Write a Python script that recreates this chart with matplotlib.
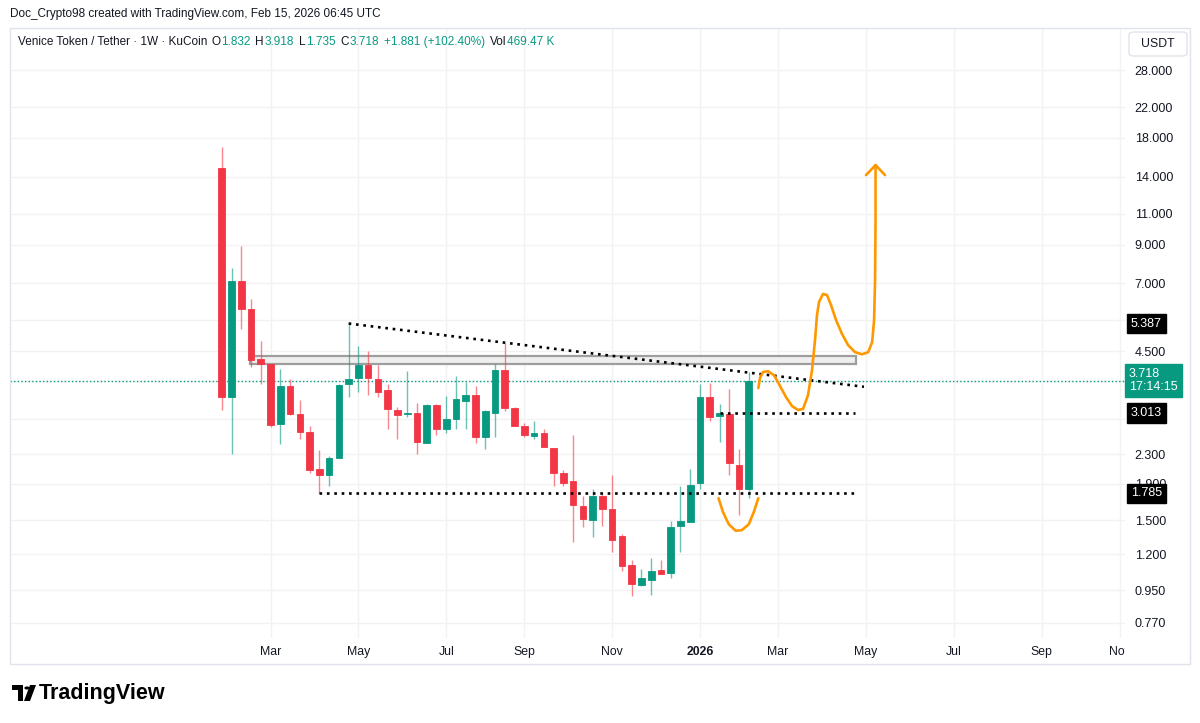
import numpy as np
import pandas as pd
import matplotlib
matplotlib.use("Agg")
import matplotlib.pyplot as plt
from matplotlib.patches import Rectangle, FancyBboxPatch, Polygon, Circle
from matplotlib.transforms import blended_transform_factory

plt.rcParams['font.family'] = ['Liberation Sans', 'DejaVu Sans']

# Venice Token / Tether, 1W, KuCoin - one candle per week from 2025-01-27
start = pd.Timestamp('2025-01-27')
opens = [14.83, 3.34, 7.08, 5.91, 4.27, 4.13, 2.81, 3.59, 3.00, 2.66,
         2.09, 2.01, 2.25, 3.63, 3.77, 4.11, 3.75, 3.49, 3.07, 3.00,
         3.01, 2.48, 3.17, 2.72, 2.90, 3.26, 3.39, 2.57, 3.02, 3.98,
         3.12, 2.76, 2.59, 2.64, 2.39, 2.04, 1.93, 1.647, 1.50, 1.75,
         1.61, 1.35, 1.12, 0.985, 1.015, 1.085, 1.065, 1.44, 1.48, 1.91,
         3.33, 2.95, 3.00, 2.14, 1.832]
highs = [16.97, 7.75, 8.92, 6.31, 4.81, 4.15, 4.00, 3.75, 3.27, 2.77,
         2.37, 2.28, 3.64, 5.387, 4.66, 4.51, 4.12, 3.63, 3.13, 3.96,
         3.21, 3.19, 3.20, 3.37, 3.82, 3.69, 3.59, 3.06, 4.13, 4.76,
         3.13, 2.83, 2.86, 2.71, 2.40, 2.08, 2.61, 1.75, 1.84, 1.80,
         2.01, 1.37, 1.16, 1.09, 1.17, 1.16, 1.49, 1.875, 2.09, 3.63,
         3.67, 3.20, 3.52, 2.38, 3.918]
lows = [3.07, 2.30, 5.19, 4.07, 3.63, 2.75, 2.46, 2.97, 2.54, 2.04,
        1.785, 1.87, 2.24, 3.34, 3.44, 3.38, 3.33, 2.71, 2.54, 2.94,
        2.30, 2.47, 2.61, 2.65, 2.72, 2.71, 2.48, 2.38, 2.58, 3.05,
        2.76, 2.57, 2.54, 2.41, 1.875, 1.875, 1.30, 1.43, 1.34, 1.44,
        1.22, 1.075, 0.915, 0.98, 0.92, 1.055, 1.03, 1.22, 1.48, 1.84,
        2.85, 2.50, 2.01, 1.55, 1.735]
closes = [3.34, 7.11, 5.91, 4.25, 4.13, 2.78, 3.59, 3.00, 2.66, 2.08,
          2.01, 2.24, 3.61, 3.75, 4.11, 3.77, 3.46, 3.08, 2.97, 3.02,
          2.49, 3.17, 2.72, 2.90, 3.29, 3.39, 2.58, 3.05, 3.98, 3.12,
          2.77, 2.61, 2.65, 2.42, 2.04, 1.91, 1.655, 1.51, 1.76, 1.61,
          1.32, 1.11, 0.99, 1.03, 1.08, 1.06, 1.43, 1.49, 1.89, 3.34,
          2.94, 3.013, 2.17, 1.832, 3.718]

price_ticks = [0.77, 0.95, 1.2, 1.5, 1.9, 2.3, 2.9, 3.7, 4.5, 5.5, 7, 9, 11, 14, 18, 22, 28]
hidden_ticks = [3.7, 5.5]   # covered by the price labels, no text
month_keys = ['2025-03', '2025-05', '2025-07', '2025-09', '2025-11', '2026-01',
              '2026-03', '2026-05', '2026-07', '2026-09', '2026-11']
month_labels = ['Mar', 'May', 'Jul', 'Sep', 'Nov', '2026', 'Mar', 'May', 'Jul', 'Sep', 'Nov']

last_price = 3.718
level_top = 5.387
level_mid = 3.013
level_low = 1.785

# drawings, x in weeks since first candle
zone_x = [2.9, 65.0]
zone_y = [4.15, 4.37]
trend_x = [13, 65.8]
trend_y = [5.387, 3.57]
mid_x = [51, 64.9]
low_x = [10, 64.9]
u_x = [50.90, 51.36, 51.95, 52.66, 53.28, 54.00, 54.51, 54.98]
u_y = [1.73, 1.58, 1.46, 1.40, 1.405, 1.46, 1.58, 1.73]
path_x = [54.98, 55.15, 55.46, 55.97, 56.58, 57.20, 57.81, 58.43, 59.05, 59.56,
          60.07, 60.48, 60.79, 60.99, 61.20, 61.61, 62.02, 62.43, 62.94, 63.56,
          64.18, 64.89, 65.61, 66.23, 66.64, 66.84, 66.94, 66.99, 66.99]
path_y = [3.54, 3.78, 3.93, 3.95, 3.85, 3.59, 3.34, 3.15, 3.07, 3.09,
          3.38, 3.98, 4.84, 5.69, 6.20, 6.53, 6.48, 6.07, 5.51, 5.03,
          4.68, 4.47, 4.41, 4.47, 4.77, 5.51, 7.15, 10.56, 15.09]
head_x = [66.01, 66.99, 67.96]
head_y = [14.14, 15.09, 14.14]

GREEN = '#089981'
RED = '#F23645'
ORANGE = '#FF9800'
INK = '#131722'
W, H = 1200, 723

fig = plt.figure(figsize=(12, 7.23), dpi=100)
fig.patch.set_facecolor('white')


def fx(x):
    return x / W


def fy(y):
    return 1 - y / H


ax = fig.add_axes([fx(10), fy(638), fx(1125) - fx(10), fy(28) - fy(638)])
ax.set_yscale('log')
ax.set_xlim(-21.7, 92.55)
ax.set_ylim(0.697, 36.8)
for s in ax.spines.values():
    s.set_visible(False)

# grid + ticks
month_idx = []
for k in month_keys:
    d = pd.Timestamp(k + '-01')
    first_monday = d + pd.Timedelta(days=(7 - d.weekday()) % 7)
    month_idx.append((first_monday - start).days / 7)
ax.set_xticks(month_idx)
ax.set_xticklabels(month_labels)
for lab in ax.get_xticklabels():
    if lab.get_text() == '2026':
        lab.set_fontweight('bold')
ax.yaxis.tick_right()
ax.set_yticks(price_ticks)
ax.set_yticklabels(['' if t in hidden_ticks else f'{t:.3f}' for t in price_ticks])
ax.yaxis.set_minor_locator(matplotlib.ticker.NullLocator())
ax.tick_params(axis='y', length=0, pad=7, labelsize=9, labelcolor=INK)
ax.tick_params(axis='x', length=0, pad=6, labelsize=8.8, labelcolor=INK)
ax.grid(True, color='#f2f2f2', lw=1.0)
ax.set_axisbelow(True)

# candles
idx = np.arange(len(opens))
o = np.array(opens)
c = np.array(closes)
up = c >= o
cols = np.where(up, GREEN, RED)
ax.vlines(idx, lows, highs, colors=cols, lw=1.0, alpha=0.6, zorder=3)
bottoms = np.minimum(o, c)
heights = np.abs(c - o)
ax.bar(idx, heights, bottom=bottoms, width=0.68, color=cols, edgecolor=cols,
       lw=0.6, zorder=4)

# current price line
ax.axhline(last_price, color=GREEN, lw=1.0, ls=(0, (1, 1.6)), zorder=2)

# resistance zone
ax.add_patch(Rectangle((zone_x[0], zone_y[0]), zone_x[1] - zone_x[0], zone_y[1] - zone_y[0],
                       facecolor='#efefef', edgecolor='#9e9e9e', lw=1.6, zorder=2))

dots = dict(color='black', lw=1.9, ls=(0, (1, 1.8)), zorder=5)
ax.plot(trend_x, trend_y, **dots)
ax.plot(mid_x, [level_mid, level_mid], **dots)
ax.plot(low_x, [level_low, level_low], **dots)

orange = dict(color=ORANGE, lw=1.9, solid_capstyle='round', solid_joinstyle='round', zorder=6)
ax.plot(u_x, u_y, **orange)
ax.plot(path_x, path_y, **orange)
ax.plot(head_x, head_y, **orange)

# price axis labels
tr = blended_transform_factory(ax.transAxes, ax.transData)
ax_w = 1125 - 10


def ax_x(px):
    return (px - 10) / ax_w


for val in [level_top, level_mid, level_low]:
    ax.text(ax_x(1131), val, f'{val:.3f}', transform=tr, color='white', fontsize=9,
            va='center', ha='left', zorder=10,
            bbox=dict(boxstyle='square,pad=0.3', fc='black', ec='black'))
ax.text(ax_x(1129), last_price, f'{last_price:.3f}\n17:14:15', transform=tr, color='white',
        fontsize=9, va='center', ha='left', zorder=10, linespacing=1.05,
        bbox=dict(boxstyle='square,pad=0.35', fc=GREEN, ec=GREEN))

# frame, cut Nov label
fig.add_artist(Rectangle((fx(1125), fy(664)), fx(1190) - fx(1125), fy(639) - fy(664),
                         transform=fig.transFigure, fc='white', ec='none', zorder=5))
fig.add_artist(Rectangle((fx(10), fy(664)), fx(1190) - fx(10), fy(28) - fy(664),
                         transform=fig.transFigure, fc='none', ec='#e0e3eb', lw=1, zorder=6))

# USDT button
fig.add_artist(FancyBboxPatch((fx(1129), fy(56)), fx(1187) - fx(1129), fy(32) - fy(56),
                              boxstyle='round,pad=0,rounding_size=0.004',
                              transform=fig.transFigure, fc='white', ec='#e0e3eb', lw=1, zorder=7))
fig.text(fx(1158), fy(44), 'USDT', ha='center', va='center', fontsize=8.8, color=INK, zorder=8)

# header
fig.text(fx(10), fy(14), 'Doc_Crypto98 created with TradingView.com, Feb 15, 2026 06:45 UTC',
         fontsize=8.5, color=INK, va='center', ha='left')

renderer = fig.canvas.get_renderer()
pieces = [('Venice Token / Tether · 1W · KuCoin', INK, 4),
          ('O', INK, 0.5), ('1.832', GREEN, 5),
          ('H', INK, 0.5), ('3.918', GREEN, 5),
          ('L', INK, 0.5), ('1.735', GREEN, 5),
          ('C', INK, 0.5), ('3.718', GREEN, 5),
          ('+1.881 (+102.40%)', GREEN, 5),
          ('Vol', INK, 0.5), ('469.47 K', GREEN, 0)]
x = 18
for txt, col, gap in pieces:
    t = fig.text(fx(x), fy(42), txt, color=col, fontsize=8.5, va='center', ha='left')
    x += t.get_window_extent(renderer=renderer).width + gap

# TradingView logo
fig.add_artist(Polygon([(fx(12), fy(685)), (fx(23), fy(685)), (fx(23), fy(701)),
                        (fx(18), fy(701)), (fx(18), fy(690)), (fx(12), fy(690))],
                       closed=True, transform=fig.transFigure, fc='black', ec='none'))
fig.add_artist(Circle((fx(27), fy(688)), 2.6 / W, transform=fig.transFigure, fc='black'))
fig.add_artist(Polygon([(fx(30), fy(685)), (fx(36), fy(685)), (fx(30), fy(701)), (fx(24), fy(701))],
                       closed=True, transform=fig.transFigure, fc='black', ec='none'))
fig.text(fx(39), fy(693), 'TradingView', fontsize=15.5, fontweight='bold', color='black',
         va='center', ha='left')

fig.savefig('out.png', dpi=100, facecolor='white')
